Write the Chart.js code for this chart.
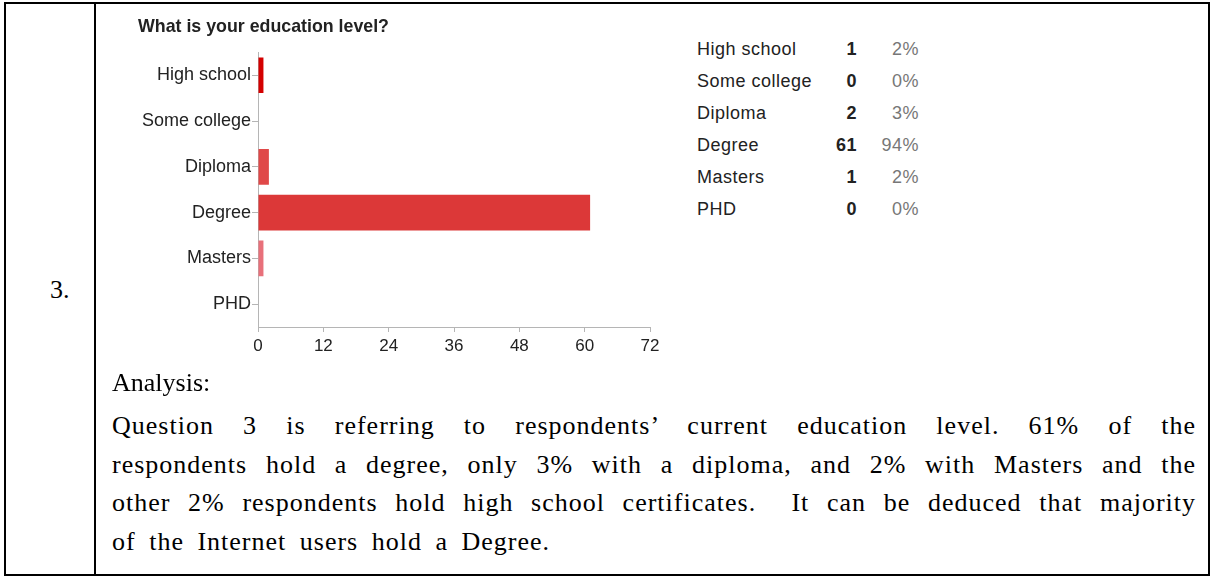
<!DOCTYPE html>
<html>
<head>
<meta charset="utf-8">
<script src="https://cdn.jsdelivr.net/npm/chart.js"></script>
<style>
  body { margin: 0; background: #fff; }
  #page { position: relative; width: 1210px; height: 576px; overflow: hidden; background: #fff; }
  .rule { position: absolute; background: #000; }
  #chartBox { position: absolute; left: 100px; top: 0; width: 580px; height: 370px; }
  #stats { position: absolute; left: 697px; top: 33px; border-collapse: collapse;
           font-family: Arial, "Liberation Sans", sans-serif; font-size: 18px; letter-spacing: 0.5px; color: #222; }
  #stats td { height: 32px; padding: 0; white-space: nowrap; }
  #stats td.n { width: 30px; text-align: right; font-weight: bold; }
  #stats td.p { width: 62px; text-align: right; color: #777; }
  .serif { position: absolute; font-family: "Liberation Serif", "Times New Roman", serif; font-size: 26px; color: #000; }
  #analysis { left: 112px; top: 407px; width: 1084px; line-height: 38.7px; letter-spacing: 1px; word-spacing: 6px; }
  #analysis div { text-align: justify; text-align-last: justify; }
  #analysis div.last { text-align-last: left; }
</style>
</head>
<body>
<div id="page">
  <div class="rule" style="left:4px; top:2px; width:1206px; height:2px;"></div>
  <div class="rule" style="left:4px; top:574px; width:1206px; height:2px;"></div>
  <div class="rule" style="left:4px; top:2px; width:2px; height:574px;"></div>
  <div class="rule" style="left:94px; top:2px; width:2px; height:574px;"></div>
  <div class="rule" style="left:1208px; top:2px; width:2px; height:574px;"></div>

  <div class="serif" style="left:50px; top:275px; line-height:30px;">3.</div>

  <div id="chartBox"><canvas id="eduChart" width="580" height="370"></canvas></div>

  <table id="stats"></table>

  <div class="serif" style="left:112px; top:364px; line-height:38.7px;">Analysis:</div>
  <div class="serif" id="analysis">
    <div>Question 3 is referring to respondents’ current education level. 61% of the</div>
    <div>respondents hold a degree, only 3% with a diploma, and 2% with Masters and the</div>
    <div>other 2% respondents hold high school certificates.&nbsp; It can be deduced that majority</div>
    <div class="last">of the Internet users hold a Degree.</div>
  </div>
</div>

<script>
const categories = ['High school', 'Some college', 'Diploma', 'Degree', 'Masters', 'PHD'];
const responses = [1, 0, 2, 61, 1, 0];
const percents = ['2%', '0%', '3%', '94%', '2%', '0%'];
const barColors = ['#d40000', '#e05050', '#e04848', '#dc3838', '#e8707a', '#ec8890'];
const xTicks = [0, 12, 24, 36, 48, 60, 72];

// summary table on the right
const stats = document.getElementById('stats');
categories.forEach((c, i) => {
    const tr = document.createElement('tr');
    tr.innerHTML = '<td style="width:130px">' + c + '</td><td class="n">' + responses[i] +
        '</td><td class="p">' + percents[i] + '</td>';
    stats.appendChild(tr);
});

const axisGray = '#b5b5b5';
const ctx = document.getElementById('eduChart').getContext('2d');

new Chart(ctx, {
    type: 'bar',
    data: {
        labels: categories,
        datasets: [{
            data: responses,
            backgroundColor: barColors,
            borderWidth: 0,
            barPercentage: 0.78,
            categoryPercentage: 1
        }]
    },
    options: {
        indexAxis: 'y',
        responsive: false,
        animation: false,
        layout: { padding: { left: 38, right: 30, top: 0, bottom: 0 } },
        plugins: {
            legend: { display: false },
            tooltip: { enabled: false },
            title: {
                display: true,
                text: 'What is your education level?',
                align: 'start',
                color: '#222',
                font: { family: 'Arial, "Liberation Sans", sans-serif', size: 17.8, weight: 'bold' },
                padding: { top: 16, bottom: 15 }
            }
        },
        scales: {
            x: {
                min: 0,
                max: xTicks[xTicks.length - 1],
                afterBuildTicks: (scale) => { scale.ticks = xTicks.map(v => ({ value: v })); },
                afterFit: (scale) => { scale.height = 43; },
                border: { color: axisGray },
                grid: { drawOnChartArea: false, color: axisGray, tickLength: 5 },
                ticks: {
                    color: '#222',
                    padding: 4,
                    maxRotation: 0,
                    font: { family: 'Arial, "Liberation Sans", sans-serif', size: 17 }
                }
            },
            y: {
                afterFit: (scale) => { scale.width = 120; },
                border: { color: axisGray },
                grid: { drawOnChartArea: false, offset: false, color: axisGray, tickLength: 6 },
                ticks: {
                    color: '#222',
                    padding: 1,
                    font: { family: 'Arial, "Liberation Sans", sans-serif', size: 18 }
                }
            }
        }
    }
});
</script>
</body>
</html>
